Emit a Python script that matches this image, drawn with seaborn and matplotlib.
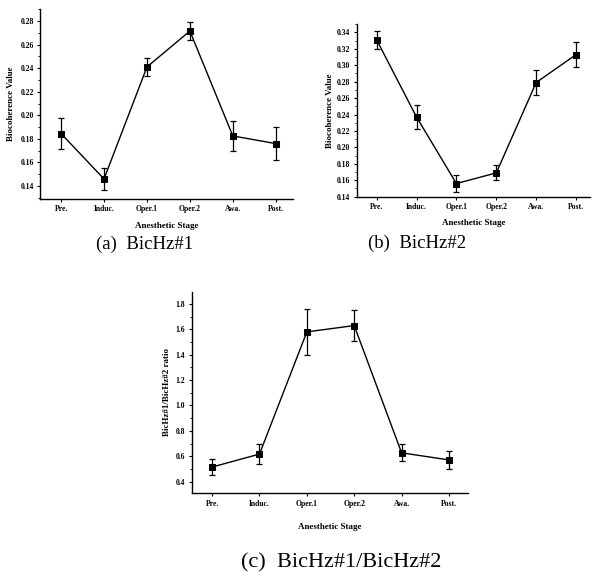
import numpy as np
import pandas as pd
import seaborn as sns
import matplotlib.pyplot as plt
from matplotlib.ticker import MultipleLocator, FormatStrFormatter

# Stages along the x axis
stages = ["Pre.", "Induc.", "Oper.1", "Oper.2", "Awa.", "Post."]

# (a) BicHz#1
bic1_mean = [0.1845, 0.146, 0.241, 0.2715, 0.1825, 0.176]
bic1_err = [0.013, 0.0095, 0.008, 0.0075, 0.0125, 0.014]

# (b) BicHz#2
bic2_mean = [0.331, 0.237, 0.156, 0.169, 0.279, 0.313]
bic2_err = [0.011, 0.015, 0.0105, 0.009, 0.015, 0.015]

# (c) ratio BicHz#1/BicHz#2
ratio_mean = [0.515, 0.617, 1.58, 1.63, 0.627, 0.571]
ratio_err = [0.062, 0.078, 0.18, 0.12, 0.068, 0.073]

sns.set_style("ticks")
plt.rcParams["font.family"] = ["Liberation Serif", "DejaVu Serif"]
plt.rcParams["text.color"] = "black"
plt.rcParams["axes.labelcolor"] = "black"
plt.rcParams["xtick.color"] = "black"
plt.rcParams["ytick.color"] = "black"

fig = plt.figure(figsize=(5.93, 5.76), dpi=100)

panels = [
    # rect, mean, err, ylim, ystep, fmt, ylabel, xlim, label pads
    ([0.0675, 0.6545, 0.4265, 0.3295], bic1_mean, bic1_err, (0.129, 0.290), 0.02, "%.2f",
     "Biocoherence Value", (-0.49, 5.4), 4, 6),
    ([0.6015, 0.6585, 0.3935, 0.2995], bic2_mean, bic2_err, (0.14, 0.350), 0.02, "%.2f",
     "Biocoherence Value", (-0.5, 5.35), 2, 6),
    ([0.323, 0.1436, 0.466, 0.350], ratio_mean, ratio_err, (0.308, 1.897), 0.2, "%.1f",
     "BicHz#1/BicHz#2 ratio", (-0.435, 5.4), 3, 11),
]

for rect, mean, err, ylim, ystep, fmt, ylabel, xlim, ypad, xpad in panels:
    ax = fig.add_axes(rect)
    df = pd.DataFrame({"pos": np.arange(len(stages)), "value": mean})
    ax.errorbar(df["pos"], df["value"], yerr=err, fmt="none", ecolor="black",
                elinewidth=0.9, capsize=2.2, capthick=0.9, zorder=2)
    sns.lineplot(data=df, x="pos", y="value", ax=ax, color="black", linewidth=1.0,
                 marker="s", markersize=4, markeredgecolor="black", zorder=3)
    ax.set_xlim(*xlim)
    ax.set_ylim(*ylim)
    ax.set_xticks(df["pos"])
    ax.set_xticklabels(stages)
    ax.yaxis.set_major_locator(MultipleLocator(ystep))
    ax.yaxis.set_minor_locator(MultipleLocator(ystep / 2))
    ax.yaxis.set_major_formatter(FormatStrFormatter(fmt))
    ax.tick_params(axis="both", which="major", labelsize=5.5, length=2.5, width=0.8,
                   direction="out", pad=2)
    ax.tick_params(axis="y", which="minor", length=1.5, width=0.6)
    for lab in ax.get_xticklabels() + ax.get_yticklabels():
        lab.set_fontweight("bold")
    ax.set_xlabel("Anesthetic Stage", fontsize=6.5, fontweight="bold", labelpad=xpad)
    ax.set_ylabel(ylabel, fontsize=6.5, fontweight="bold", labelpad=ypad)
    sns.despine(ax=ax)
    for side in ["left", "bottom"]:
        ax.spines[side].set_linewidth(1.0)
        ax.spines[side].set_color("black")

fig.text(0.243, 0.575, "(a)  BicHz#1", fontsize=13.5, ha="center", va="center")
fig.text(0.703, 0.578, "(b)  BicHz#2", fontsize=13.5, ha="center", va="center")
fig.text(0.575, 0.023, "(c)  BicHz#1/BicHz#2", fontsize=16, ha="center", va="center")

fig.savefig("out.png", dpi=100, facecolor="white")
